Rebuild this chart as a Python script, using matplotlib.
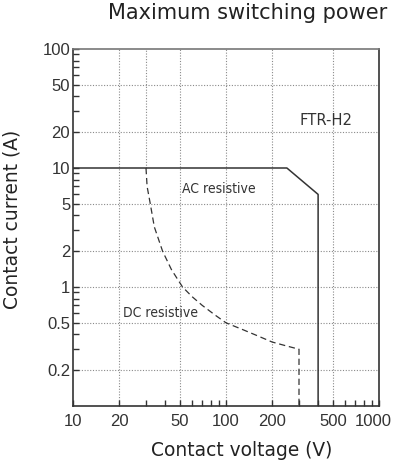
import matplotlib
matplotlib.use('Agg')
import matplotlib.pyplot as plt
import matplotlib.transforms as mtransforms
from matplotlib.ticker import FixedLocator, NullFormatter

# AC resistive limit (V, A)
ac_v = [10, 250, 400, 400]
ac_i = [10, 10, 6, 0.1]

# DC resistive limit (V, A)
dc_v = [30, 30.5, 32, 34, 38.5, 44, 52, 60, 70, 85, 100, 130, 160, 200, 250, 300, 300]
dc_i = [10, 7, 5, 3.2, 2, 1.4, 1.0, 0.83, 0.7, 0.58, 0.5, 0.436, 0.39, 0.345, 0.319, 0.3, 0.1]

x_ticks = [10, 20, 50, 100, 200, 500, 1000]
x_labels = ['10', '20', '50', '100', '200', '500', '1000']
y_ticks = [0.2, 0.5, 1, 2, 5, 10, 20, 50, 100]
y_labels = ['0.2', '0.5', '1', '2', '5', '10', '20', '50', '100']
x_grid = [20, 50, 100, 200, 500]
y_grid = [0.2, 0.5, 1, 2, 5, 20, 50]

line_col = '#333333'
grid_col = '#8a8a8a'

fig = plt.figure(figsize=(3.93, 4.68), dpi=100)
ax = fig.add_axes([73/393, 1 - 406/468, (379 - 73)/393, (406 - 49)/468])
ax.set_xscale('log')
ax.set_yscale('log')
ax.set_xlim(10, 1000)
ax.set_ylim(0.1, 100)

# grid
ax.vlines(x_grid, 0.1, 100, colors=grid_col, linestyles=(0, (1, 1.5)), lw=0.8, zorder=1)
ax.vlines(30, 10, 100, colors=grid_col, linestyles=(0, (1, 1.5)), lw=0.8, zorder=1)
ax.hlines(y_grid, 10, 1000, colors=grid_col, linestyles=(0, (1, 1.5)), lw=0.8, zorder=1)

ax.plot(ac_v, ac_i, color=line_col, lw=1.1, zorder=3)
ax.plot(dc_v, dc_i, color=line_col, lw=0.9, ls=(0, (5, 3)), zorder=3)

ax.text(51.6, 6.7, 'AC resistive', family='DejaVu Sans', stretch='condensed', fontsize=10,
        color='#333333', va='center', ha='left')
ax.text(21.1, 0.605, 'DC resistive', family='DejaVu Sans', stretch='condensed', fontsize=10,
        color='#333333', va='center', ha='left')
ax.text(303, 25, 'FTR-H2', family='DejaVu Sans', stretch='condensed', fontsize=11.8,
        color='#333333', va='center', ha='left')

# ticks
ax.xaxis.set_major_locator(FixedLocator(x_ticks))
ax.xaxis.set_minor_locator(FixedLocator([30, 40, 60, 70, 80, 90, 300, 400, 600, 700, 800, 900]))
ax.yaxis.set_major_locator(FixedLocator(y_ticks))
ax.yaxis.set_minor_locator(FixedLocator([0.3, 0.4, 0.6, 0.7, 0.8, 0.9, 3, 4, 6, 7, 8, 9,
                                         30, 40, 60, 70, 80, 90]))
ax.set_xticklabels(x_labels)
ax.set_yticklabels(y_labels)
ax.xaxis.set_minor_formatter(NullFormatter())
ax.yaxis.set_minor_formatter(NullFormatter())
ax.tick_params(which='both', direction='in', length=4, width=1, color=line_col,
               labelsize=12, labelcolor='#333333')
ax.tick_params(axis='x', which='both', pad=6)
ax.tick_params(axis='y', which='both', pad=2)
for lab in ax.get_xticklabels() + ax.get_yticklabels():
    lab.set_family('Liberation Sans')

# keep the last x label inside the canvas
last = ax.get_xticklabels()[-1]
last.set_transform(last.get_transform() + mtransforms.ScaledTranslation(-6/100, 0, fig.dpi_scale_trans))

for s in ax.spines.values():
    s.set_color(line_col)
    s.set_linewidth(1.2)
ax.spines['top'].set_color('#777777')

fig.text(248/393, 1 - 13/468, 'Maximum switching power', ha='center', va='center',
         fontsize=15, color='#222222')
fig.text(242/393, 1 - 451/468, 'Contact voltage (V)', ha='center', va='center',
         fontsize=13.4, color='#222222')
fig.text(12/393, 1 - 219/468, 'Contact current (A)', ha='center', va='center',
         rotation=90, fontsize=13.4, color='#222222')

fig.savefig('out.png', dpi=100)
